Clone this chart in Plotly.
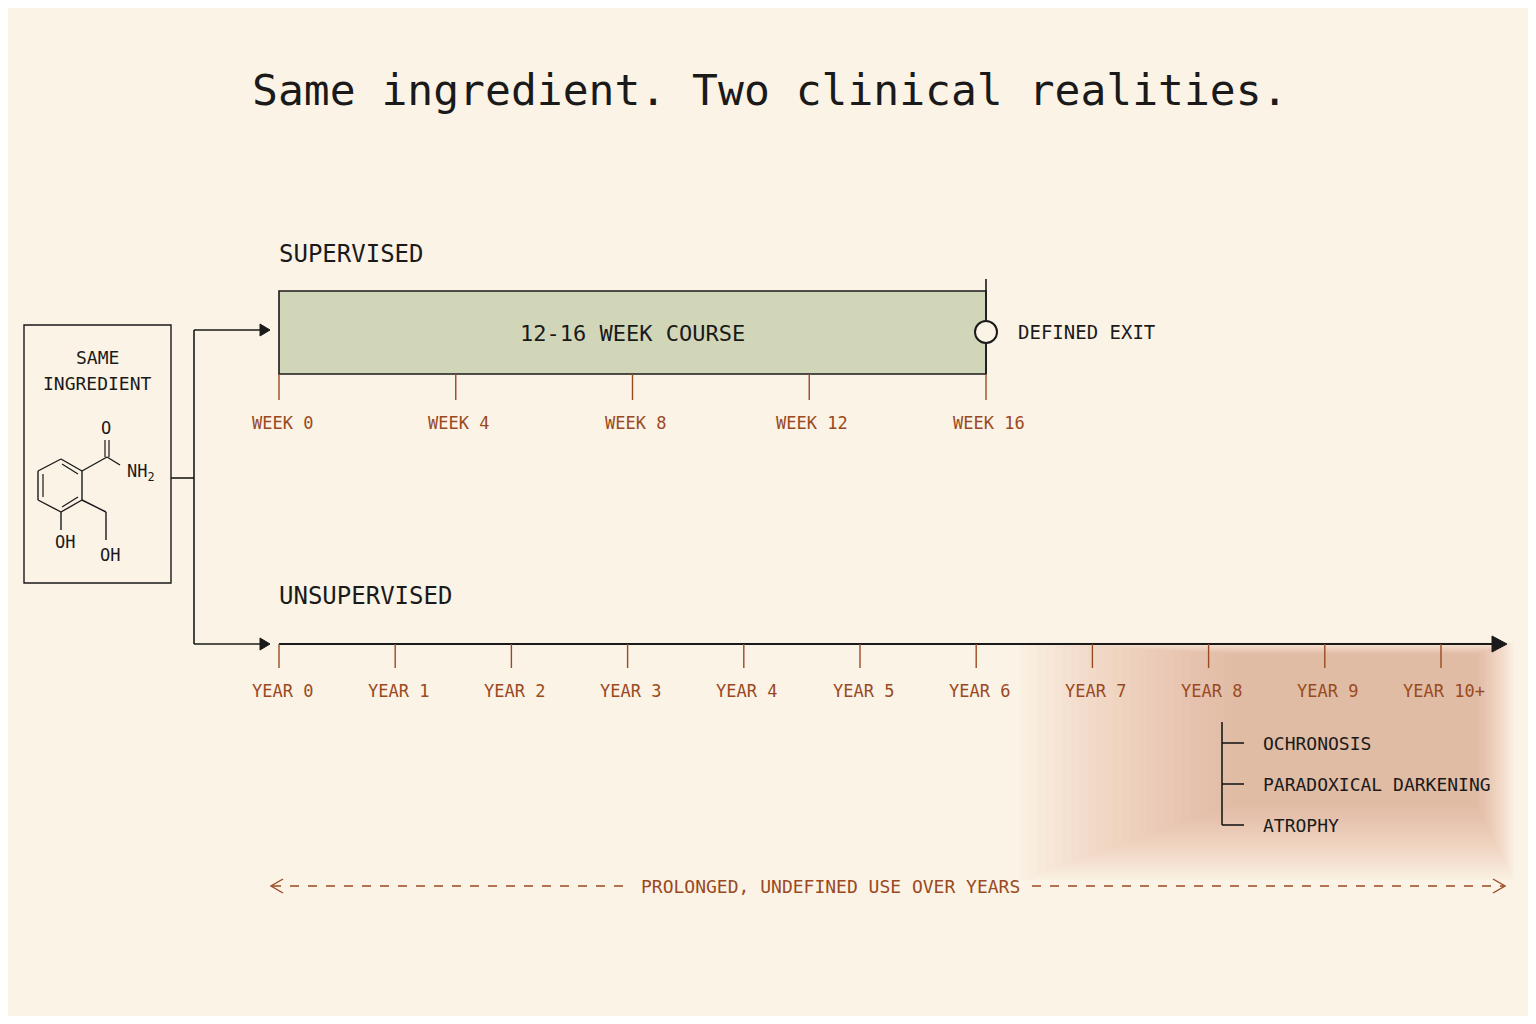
import plotly.graph_objects as go

title = "Same ingredient. Two clinical realities."
week_ticks = [0, 4, 8, 12, 16]
week_labels = ["WEEK 0", "WEEK 4", "WEEK 8", "WEEK 12", "WEEK 16"]
year_ticks = [0, 1, 2, 3, 4, 5, 6, 7, 8, 9, 10]
year_labels = ["YEAR 0", "YEAR 1", "YEAR 2", "YEAR 3", "YEAR 4", "YEAR 5",
               "YEAR 6", "YEAR 7", "YEAR 8", "YEAR 9", "YEAR 10+"]
course_weeks = [0, 16]
risks = ["OCHRONOSIS", "PARADOXICAL DARKENING", "ATROPHY"]

BG = "#fbf3e6"; INK = "#1a1a1a"; RUST = "#9a4a22"; GREEN = "#d1d6b8"
FONT = "DejaVu Sans Mono"
W, H = 1536, 1024
OFF = 8
wx0, wx1 = 279, 986
yx0, yx1 = 279, 1441

def wk(v): return wx0 + (v - week_ticks[0]) * (wx1 - wx0) / (week_ticks[-1] - week_ticks[0])
def yr(v): return yx0 + (v - year_ticks[0]) * (yx1 - yx0) / (year_ticks[-1] - year_ticks[0])

fig = go.Figure()
shapes, ann = [], []
def line(x0, y0, x1, y1, color=INK, w=1.6, dash=None):
    shapes.append(dict(type="line", x0=x0, y0=y0, x1=x1, y1=y1, xref="x", yref="y",
                       line=dict(color=color, width=w, dash=dash)))
def text(x, y, t, size=19, color=INK, anchor="center", family=FONT):
    ann.append(dict(x=x, y=y, text=t, xref="x", yref="y", showarrow=False,
                    font=dict(family=family, size=size, color=color), xanchor=anchor, yanchor="middle"))

# blob
N = 26
for i in range(N):
    shapes.append(dict(type="rect", x0=1020 + i * 8.5, x1=1514 - i * 1.5, y0=642 + i * 0.5, y1=880 - i * 3,
                       xref="x", yref="y", line=dict(width=0), fillcolor="#e39570", opacity=0.033, layer="below"))

text(770, 90, title, size=43)

# supervised
text(277, 254, "SUPERVISED", size=24, anchor="left")
shapes.append(dict(type="rect", x0=wk(course_weeks[0]), x1=wk(course_weeks[1]), y0=291, y1=374, xref="x", yref="y",
                   fillcolor=GREEN, line=dict(color=INK, width=1.6), layer="below"))
text((wk(course_weeks[0]) + wk(course_weeks[1])) / 2, 333, "12-16 WEEK COURSE", size=22)
line(wk(16), 279, wk(16), 374)
for v, l in zip(week_ticks, week_labels):
    line(wk(v), 374, wk(v), 400, RUST, 1.4)
    text(wk(v) + 3, 423, l, size=17, color=RUST)
shapes.append(dict(type="circle", x0=wk(16) - 11, x1=wk(16) + 11, y0=321, y1=343, xref="x", yref="y",
                   fillcolor=BG, line=dict(color=INK, width=2)))
text(1016, 332, "DEFINED EXIT", size=19, anchor="left")

# unsupervised
text(277, 596, "UNSUPERVISED", size=24, anchor="left")
line(yr(0), 644, 1494, 644, INK, 1.8)
shapes.append(dict(type="path", path="M 1492 636 L 1507 644 L 1492 652 Z", xref="x", yref="y",
                   fillcolor=INK, line=dict(color=INK, width=1)))
for v, l in zip(year_ticks, year_labels):
    line(yr(v), 644, yr(v), 668, RUST, 1.4)
    text(yr(v) + 3, 691, l, size=17, color=RUST)
line(1222, 722, 1222, 825)
for i, r in enumerate(risks):
    yy = 743 + i * 41
    line(1222, yy if i < 2 else 825, 1244, yy if i < 2 else 825)
    text(1261, yy, r, size=18, anchor="left")

# dashed span
line(272, 886, 628, 886, RUST, 1.4, "dash")
line(1032, 886, 1504, 886, RUST, 1.4, "dash")
shapes.append(dict(type="path", path="M 283 879 L 271 886 L 283 893", xref="x", yref="y", line=dict(color=RUST, width=1.4)))
shapes.append(dict(type="path", path="M 1493 879 L 1505 886 L 1493 893", xref="x", yref="y", line=dict(color=RUST, width=1.4)))
text(830, 886, "PROLONGED, UNDEFINED USE OVER YEARS", size=18, color=RUST)

# connector
line(171, 478, 194, 478)
line(194, 330, 194, 644)
line(194, 330, 262, 330); line(194, 644, 262, 644)
for yy in (330, 644):
    shapes.append(dict(type="path", path=f"M 260 {yy-6} L 270 {yy} L 260 {yy+6} Z", xref="x", yref="y",
                       fillcolor=INK, line=dict(color=INK, width=1)))

# ingredient box
shapes.append(dict(type="rect", x0=24, x1=171, y0=325, y1=583, xref="x", yref="y", line=dict(color=INK, width=1.4)))
text(97, 357, "SAME", size=18); text(97, 383, "INGREDIENT", size=18)
hexv = [(61, 459), (82, 471), (82, 500), (61, 512), (38, 500), (38, 471)]
for i in range(6):
    a, b = hexv[i], hexv[(i + 1) % 6]
    line(a[0], a[1], b[0], b[1], INK, 1.4)
line(43, 474, 43, 497, INK, 1.2); line(62, 464, 78, 474, INK, 1.2); line(78, 497, 62, 507, INK, 1.2)
line(82, 471, 107, 457, INK, 1.4); line(105, 457, 105, 440, INK, 1.2); line(109, 457, 109, 440, INK, 1.2)
line(107, 457, 120, 465, INK, 1.4)
line(82, 500, 106, 512, INK, 1.4); line(106, 512, 106, 540, INK, 1.4)
line(61, 512, 61, 530, INK, 1.4)
text(106, 428, "O", size=17); text(141, 472, "NH<sub>2</sub>", size=17)
text(65, 542, "OH", size=17); text(110, 555, "OH", size=17)

fig.update_layout(width=W - OFF * 2, height=H - OFF * 2, margin=dict(l=0, r=0, t=0, b=0),
                  paper_bgcolor=BG, plot_bgcolor=BG,
                  shapes=shapes, annotations=ann, showlegend=False,
                  xaxis=dict(range=[OFF, W - OFF], visible=False, fixedrange=True),
                  yaxis=dict(range=[H - OFF, OFF], visible=False, fixedrange=True))
fig.write_html("out.html", config={"displayModeBar": False})
